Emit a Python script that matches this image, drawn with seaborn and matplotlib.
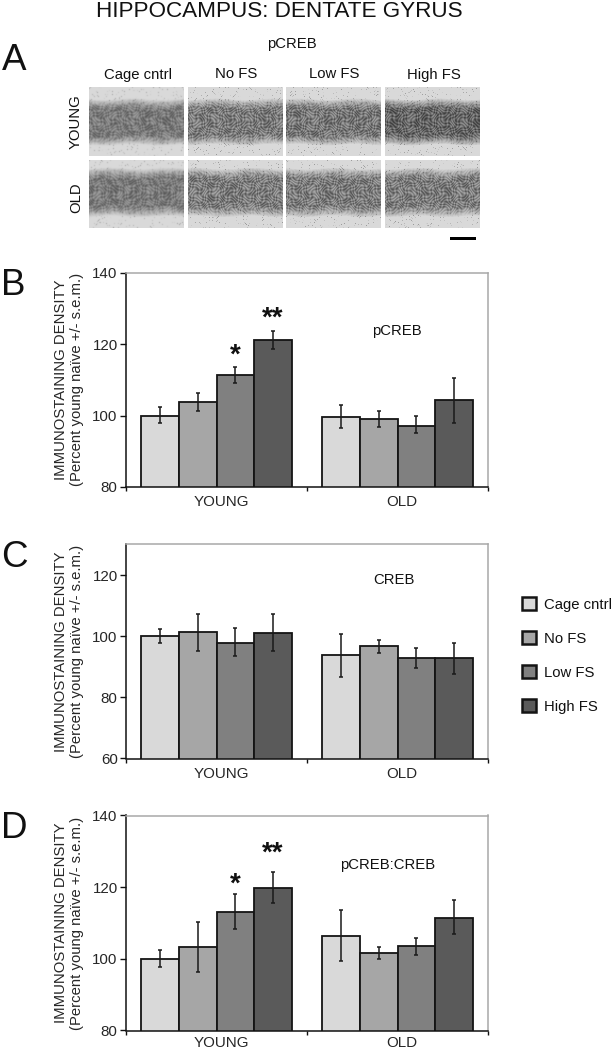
import numpy as np
import pandas as pd
import seaborn as sns
import matplotlib
matplotlib.use("Agg")
import matplotlib.pyplot as plt
from matplotlib.patches import Patch
from matplotlib.transforms import ScaledTranslation

W, H = 611, 1050
ages = ["YOUNG", "OLD"]
treatments = ["Cage cntrl", "No FS", "Low FS", "High FS"]
colors = ["#d9d9d9", "#a6a6a6", "#808080", "#5a5a5a"]

pcreb_mean = [100, 103.7, 111.2, 121.2, 99.7, 99.0, 97.2, 104.2]
pcreb_low = [97.8, 101.2, 109.0, 118.7, 96.6, 96.9, 95.0, 97.8]
pcreb_high = [102.4, 106.3, 113.7, 123.6, 103.0, 101.3, 99.8, 110.5]

creb_mean = [100, 101.3, 98.0, 101.2, 94.0, 96.8, 93.1, 92.8]
creb_low = [97.8, 95.3, 93.5, 95.2, 86.8, 94.7, 89.6, 87.8]
creb_high = [102.3, 107.5, 102.7, 107.5, 100.8, 98.8, 96.2, 97.8]

ratio_mean = [100, 103.3, 113.0, 119.8, 106.5, 101.6, 103.5, 111.5]
ratio_low = [97.6, 96.2, 108.2, 115.5, 99.3, 100.0, 101.2, 106.8]
ratio_high = [102.5, 110.4, 118.0, 124.2, 113.7, 103.3, 105.8, 116.3]

sns.set_theme(style="white")
plt.rcParams["font.family"] = ["Liberation Sans", "DejaVu Sans"]
plt.rcParams["text.color"] = "#111111"

fig = plt.figure(figsize=(W / 100, H / 100), dpi=100, facecolor="white")


def ftext(x, y, s, **kw):
    kw.setdefault("ha", "center")
    kw.setdefault("va", "baseline")
    kw.setdefault("fontsize", 10.7)
    return fig.text(x / W, 1 - y / H, s, **kw)


def ax_px(l, t, r, b):
    return fig.add_axes([l / W, 1 - b / H, (r - l) / W, (b - t) / H])


def panel(box, mean, low, high, ylim, yticks, letter, letter_y, name, name_x, name_y, stars, xpad=6):
    ax = ax_px(*box)
    df = pd.DataFrame({
        "age": np.repeat(ages, 4),
        "treatment": treatments * 2,
        "value": mean,
    })
    sns.barplot(data=df, x="age", y="value", hue="treatment", order=ages,
                hue_order=treatments, palette=colors, width=0.834, gap=0,
                saturation=1, edgecolor="#141414", linewidth=1.3,
                errorbar=None, legend=False, ax=ax)
    ax.set_xlim(-0.5, 1.5)
    ax.set_ylim(*ylim)
    ax.set_yticks(yticks)
    ax.set_yticklabels([str(v) for v in yticks], fontsize=10.9)
    ax.set_xticks([0, 1])
    ax.set_xticklabels(ages, fontsize=10.9)
    ax.set_xticks([-0.5, 0.5, 1.5], minor=True)
    ax.tick_params(axis="x", which="major", length=0, pad=xpad)
    ax.tick_params(axis="x", which="minor", length=3, width=1, color="#111111", bottom=True)
    ax.tick_params(axis="y", length=4, width=1, color="#111111", left=True, pad=2)
    shift = ScaledTranslation(4.5 / 100, 0, fig.dpi_scale_trans)
    for t in ax.get_xticklabels():
        t.set_transform(t.get_transform() + shift)
    ax.set_xlabel("")
    ax.set_ylabel("IMMUNOSTAINING DENSITY\n(Percent young naïve +/- s.e.m.)",
                  fontsize=10.7, linespacing=1.2)
    ax.yaxis.set_label_coords(-0.116, 0.5)
    for side in ("left", "bottom"):
        ax.spines[side].set_color("#111111")
        ax.spines[side].set_linewidth(1.1)
    for side in ("top", "right"):
        ax.spines[side].set_color("#a8a8a8")
        ax.spines[side].set_linewidth(1.1)
    ax.grid(False)

    centers = []
    for cont in ax.containers:
        centers.append([p.get_x() + p.get_width() / 2 for p in cont.patches])
    xs = [centers[h][g] for g in range(2) for h in range(4)]
    m, lo, hi = np.array(mean), np.array(low), np.array(high)
    ax.errorbar(xs, m, yerr=[m - lo, hi - m], fmt="none", ecolor="#1a1a1a",
                elinewidth=1.1, capsize=1.3, capthick=1.1, zorder=5)

    for idx, text, y in stars:
        ax.annotate(text, (xs[idx], y), xytext=(0, -9), textcoords="offset points",
                    ha="center", va="baseline", fontsize=20, fontweight="bold",
                    color="#111111", fontfamily="Liberation Sans")
    ftext(1.5, letter_y, letter, ha="left", fontsize=26.5)
    ftext(name_x, name_y, name, va="center")
    return ax


panel((126, 272.5, 488, 487), pcreb_mean, pcreb_low, pcreb_high, (80, 140),
      [80, 100, 120, 140], "B", 295, "pCREB", 397, 331,
      [(2, "*", 118.3), (3, "**", 128.7)])
panel((126, 544, 488, 758.5), creb_mean, creb_low, creb_high, (60, 130.3),
      [60, 80, 100, 120], "C", 567, "CREB", 394, 580, [])
panel((126, 815.5, 488, 1030.5), ratio_mean, ratio_low, ratio_high, (80, 140),
      [80, 100, 120, 140], "D", 838, "pCREB:CREB", 388, 865,
      [(2, "*", 122.3), (3, "**", 131)], xpad=4)

# Micrograph strip (stylised stand-in texture for the stained sections)
panel_lefts = [89, 188, 286, 385]
row_boxes = [(87, 156), (160, 228)]
band_centers = [0.50, 0.47]
band_widths = [0.30, 0.32]
darkness = [[0.92, 0.92, 0.95, 1.12], [0.92, 0.9, 0.9, 0.9]]
for r, (top, bottom) in enumerate(row_boxes):
    for c, left in enumerate(panel_lefts):
        a = ax_px(left, top, left + 95, bottom)
        h, w = int(bottom - top), 95
        yy, xx = np.mgrid[0:h, 0:w].astype(float)
        phase = 1.7 * c + 2.3 * r
        cells = (np.sin(xx * 1.13 + 2.6 * np.sin(yy * 0.47 + phase) + 1.5 * np.sin(xx * 0.37))
                 * np.sin(yy * 1.07 + 2.3 * np.sin(xx * 0.53 + phase) + 1.3 * np.sin(yy * 0.29)))
        v = yy / h
        wobble = 0.012 * np.sin(xx * 0.11 + phase)
        d = np.abs(v - band_centers[r] - wobble) / band_widths[r]
        band = np.clip(1.3 - d ** 2.5, 0, 1)
        specks = np.clip(cells - 0.82, 0, 1) * 1.4
        img = 0.85 - band * (0.40 * darkness[r][c] + 0.16 * cells) - (1 - band) * specks
        a.imshow(np.clip(img, 0.1, 0.88), cmap="gray", vmin=0, vmax=1, aspect="auto",
                 interpolation="bicubic")
        a.axis("off")

bar_ax = ax_px(450, 236.5, 476, 239.5)
bar_ax.set_facecolor("black")
bar_ax.set_xticks([])
bar_ax.set_yticks([])
for s in bar_ax.spines.values():
    s.set_visible(False)

ftext(279, 17, "HIPPOCAMPUS: DENTATE GYRUS", fontsize=16.2)
ftext(292, 48, "pCREB")
for x, label in zip([138, 236, 334, 434], treatments):
    ftext(x, 78.5, label)
ftext(76, 122, "YOUNG", rotation=90, va="center")
ftext(76, 198, "OLD", rotation=90, va="center")
ftext(1.5, 70, "A", ha="left", fontsize=26.5)

handles = [Patch(facecolor=col, edgecolor="#141414", linewidth=1.8, label=t)
           for col, t in zip(colors, treatments)]
fig.legend(handles=handles, loc="upper left", bbox_to_anchor=(519 / W, 1 - 594.5 / H),
           frameon=False, fontsize=10.7, handlelength=0.95, handleheight=0.95,
           handletextpad=0.5, labelspacing=1.31, borderpad=0.2, borderaxespad=0)

fig.savefig("out.png", dpi=100, facecolor="white")
